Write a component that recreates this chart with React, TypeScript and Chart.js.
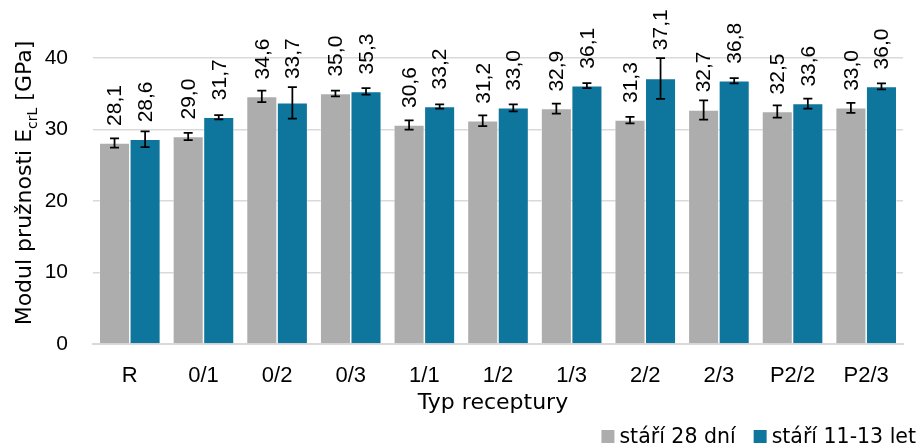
import React, { useEffect, useRef } from "react";
import { Chart, registerables } from "chart.js";

Chart.register(...registerables);

const categories = ["R", "0/1", "0/2", "0/3", "1/1", "1/2", "1/3", "2/2", "2/3", "P2/2", "P2/3"];
const values28 = [28.1, 29.0, 34.6, 35.0, 30.6, 31.2, 32.9, 31.3, 32.7, 32.5, 33.0];
const values11 = [28.6, 31.7, 33.7, 35.3, 33.2, 33.0, 36.1, 37.1, 36.8, 33.6, 36.0];
const errors28 = [0.65, 0.5, 0.8, 0.4, 0.65, 0.75, 0.7, 0.45, 1.35, 0.85, 0.7];
const errors11 = [1.1, 0.3, 2.2, 0.45, 0.3, 0.5, 0.35, 2.85, 0.37, 0.7, 0.42];
const yTicks = [0, 10, 20, 30, 40];
const seriesNames = ["stáří 28 dní", "stáří 11-13 let"];
const errorsBySeries = [errors28, errors11];
const xTitle = "Typ receptury";
const yTitleParts = ["Modul pružnosti E", "crL", " [GPa]"];

const FONT = "'Liberation Sans', Arial, sans-serif";
const TFONT = "'DejaVu Sans', sans-serif";
const GRAY = "#adadad";
const BLUE = "#0e759c";
const COLORS = [GRAY, BLUE];

const errorBarsAndLabels = {
  id: "errorBarsAndLabels",
  afterDatasetsDraw(chart: any) {
    const ctx = chart.ctx;
    const yScale = chart.scales.y;
    chart.data.datasets.forEach((ds: any, di: number) => {
      const meta = chart.getDatasetMeta(di);
      const errs = errorsBySeries[di];
      meta.data.forEach((el: any, i: number) => {
        const v = ds.data[i];
        const e = errs[i];
        const x = el.x;
        const yTop = yScale.getPixelForValue(v + e);
        const yBot = yScale.getPixelForValue(v - e);
        ctx.save();
        ctx.strokeStyle = "#000";
        ctx.lineWidth = 1.75;
        ctx.beginPath();
        ctx.moveTo(x, yTop);
        ctx.lineTo(x, yBot);
        ctx.moveTo(x - 4.5, yTop);
        ctx.lineTo(x + 4.5, yTop);
        ctx.moveTo(x - 4.5, yBot);
        ctx.lineTo(x + 4.5, yBot);
        ctx.stroke();
        const barTop = el.y;
        const start = Math.min(barTop - 17, yTop - 8);
        ctx.translate(x, start);
        ctx.rotate(-Math.PI / 2);
        ctx.fillStyle = "#000";
        ctx.font = `21px ${FONT}`;
        ctx.textAlign = "left";
        ctx.textBaseline = "middle";
        ctx.fillText(v.toFixed(1).replace(".", ","), 0, 1);
        ctx.restore();
      });
    });
  },
};

const titlesAndLegend = {
  id: "titlesAndLegend",
  afterDraw(chart: any) {
    const ctx = chart.ctx;
    const area = chart.chartArea;
    const parts = [
      { t: yTitleParts[0], size: 22, dy: 0 },
      { t: yTitleParts[1], size: 14, dy: 6 },
      { t: yTitleParts[2], size: 22, dy: 0 },
    ];
    ctx.save();
    let total = 0;
    const widths = parts.map((p) => {
      ctx.font = `${p.size}px ${TFONT}`;
      const w = ctx.measureText(p.t).width;
      total += w;
      return w;
    });
    ctx.translate(31, (area.top + area.bottom) / 2);
    ctx.rotate(-Math.PI / 2);
    ctx.fillStyle = "#000";
    ctx.textBaseline = "alphabetic";
    ctx.textAlign = "left";
    let cx = -total / 2;
    parts.forEach((p, i) => {
      ctx.font = `${p.size}px ${TFONT}`;
      ctx.fillText(p.t, cx, p.dy);
      cx += widths[i];
    });
    ctx.restore();

    ctx.save();
    ctx.fillStyle = "#000";
    ctx.font = `22px ${TFONT}`;
    ctx.textAlign = "center";
    ctx.textBaseline = "alphabetic";
    ctx.fillText(xTitle, (area.left + area.right) / 2 - 5, 409);
    ctx.restore();

    ctx.save();
    ctx.font = `20.5px ${TFONT}`;
    ctx.textBaseline = "alphabetic";
    ctx.textAlign = "left";
    const box = 13;
    const gapBoxText = 5;
    const gapItems = 18;
    let right = 916;
    const baseline = 443;
    for (let i = seriesNames.length - 1; i >= 0; i--) {
      const w = ctx.measureText(seriesNames[i]).width;
      const textX = right - w;
      const boxX = textX - gapBoxText - box;
      ctx.fillStyle = COLORS[i];
      ctx.fillRect(boxX, baseline - box, box, box);
      ctx.fillStyle = "#000";
      ctx.fillText(seriesNames[i], textX, baseline);
      right = boxX - gapItems;
    }
    ctx.restore();
  },
};

export default function App() {
  const ref = useRef<HTMLCanvasElement>(null);
  useEffect(() => {
    if (!ref.current) return;
    const chart = new Chart(ref.current, {
      type: "bar",
      data: {
        labels: categories,
        datasets: seriesNames.map((name, i) => ({
          label: name,
          data: i === 0 ? values28 : values11,
          backgroundColor: COLORS[i],
          borderColor: "rgba(255,255,255,0.6)",
          borderWidth: 0.75,
          categoryPercentage: 0.83,
          barPercentage: 1,
        })),
      },
      options: {
        animation: false,
        responsive: true,
        maintainAspectRatio: false,
        layout: { padding: { top: 22, right: 16, left: 0, bottom: 0 } },
        plugins: {
          tooltip: { enabled: false },
          legend: { display: false },
        },
        scales: {
          x: {
            grid: { display: false, drawTicks: false },
            border: { display: true, color: "#d9d9d9", width: 2 },
            ticks: { color: "#000", padding: 19, font: { family: FONT, size: 22 } },
            afterFit(scale: any) {
              scale.height = 100;
            },
          },
          y: {
            min: 0,
            max: 45,
            border: { display: false },
            grid: {
              color: "#d9d9d9",
              lineWidth: 1.5,
              drawTicks: true,
              tickLength: 22,
              tickColor: "rgba(0,0,0,0)",
            },
            ticks: { stepSize: 10, color: "#000", padding: 3, font: { family: FONT, size: 21 } },
            afterBuildTicks(scale: any) {
              scale.ticks = yTicks.map((v) => ({ value: v }));
            },
            afterFit(scale: any) {
              scale.width = 93;
            },
          },
        },
      },
      plugins: [errorBarsAndLabels, titlesAndLegend],
    });
    return () => chart.destroy();
  }, []);
  return (
    <div style={{ position: "fixed", left: 0, top: 0, width: 919, height: 444 }}>
      <canvas ref={ref} />
    </div>
  );
}
